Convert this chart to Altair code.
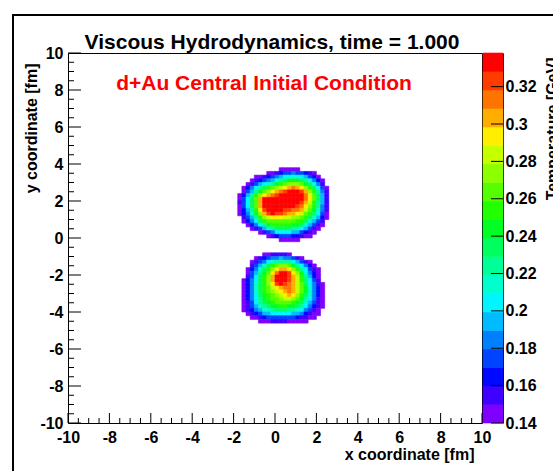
import altair as alt
import pandas as pd

# ---------------- text ----------------
TITLE = "Viscous Hydrodynamics, time = 1.000"
ANNOTATION = "d+Au Central Initial Condition"
X_TITLE = "x coordinate [fm]"
Y_TITLE = "y coordinate [fm]"
Z_TITLE = "Temperature [GeV]"

# ---------------- colour bar ----------------
Z_MIN = 0.14
Z_MAX = 0.338
Z_TICKS = [0.14, 0.16, 0.18, 0.2, 0.22, 0.24, 0.26, 0.28, 0.3, 0.32]
BAND_COLORS = ["#7f00ff", "#4000ff", "#0008ff", "#0044ff", "#0080ff",
               "#00bbff", "#00f6ff", "#00ffcc", "#00ff99", "#00ff5e",
               "#00ff22", "#22ff00", "#55ff00", "#8cff00", "#c6ff00",
               "#ffee00", "#ffae00", "#ff7300", "#ff3c00", "#ff0000"]

# ---------------- axes ----------------
X_MAJOR = [-10, -8, -6, -4, -2, 0, 2, 4, 6, 8, 10]
Y_MAJOR = [-10, -8, -6, -4, -2, 0, 2, 4, 6, 8, 10]

# ---------------- temperature field (band index per 0.2 fm cell) ----------------
# '.' = below 0.14 GeV (not drawn), '0'..'9','a'..'j' = colour band 0..19
LEVEL_CODES = "0123456789abcdefghij"
CELL = 0.2
UPPER_X0, UPPER_Y0 = -1.8, 3.8   # upper-left corner of the upper hot spot grid
UPPER_ROWS = [
    "..........00000.......",
    ".......001233433210...",
    "....0012345667665320..",
    "...012345789aaa986420.",
    "..0135678abcdddca9641.",
    ".024689bcdefghgfdb9630",
    ".0358acdfghijjjigdb841",
    "0258bdfghijjjjjjhfc951",
    "0369cgjjjjjjjjjjhfc951",
    "1369cgjjjjjjjjjigeb851",
    "0369cgjjjjjjjjihfdb841",
    "0258bfijjjjiihhgeca741",
    "0247adgijiihggfecb9630",
    ".1358bdefffeeddcb97520",
    ".02469bcccccccbb97531.",
    "..02468abbbbbaa975310.",
    "...01357899998865310..",
    ".....01346666553210...",
    ".......01233322100....",
    "..........00000.......",
]
LOWER_X0, LOWER_Y0 = -1.6, -0.8  # upper-left corner of the lower hot spot grid
LOWER_ROWS = [
    ".....0011110........",
    "...012344544310.....",
    "..013467888865310...",
    "..13579bcddca86420..",
    ".02479bdfggfdb86310.",
    ".0358acfhjjifda7420.",
    ".1369bdgjjjigeb8520.",
    "02469bdgjjjigeb9631.",
    "02479bdfijihgec96410",
    "02479bcefghhgeca7420",
    "02479bcdefghgeca7420",
    "02469abcdefgfdb97420",
    "02468abccdeedca86410",
    "013689abccccba975310",
    "0135789aabbaa9864210",
    "0124577899988764310.",
    ".012355666665542100.",
    "..0012333333321100..",
    "....000111100000....",
]

# ---------------- build tables ----------------
band_w = (Z_MAX - Z_MIN) / len(BAND_COLORS)
records = []
for x0, y0, rows in [(UPPER_X0, UPPER_Y0, UPPER_ROWS), (LOWER_X0, LOWER_Y0, LOWER_ROWS)]:
    for r, line in enumerate(rows):
        for c, ch in enumerate(line):
            if ch == ".":
                continue
            k = LEVEL_CODES.index(ch)
            records.append({
                "x": round(x0 + c * CELL, 3), "x2": round(x0 + (c + 1) * CELL, 3),
                "y": round(y0 - (r + 1) * CELL, 3), "y2": round(y0 - r * CELL, 3),
                "T": round(Z_MIN + (k + 0.5) * band_w, 5),
            })
cells = pd.DataFrame(records)

bands = pd.DataFrame({
    "lo": [Z_MIN + k * band_w for k in range(len(BAND_COLORS))],
    "hi": [Z_MIN + (k + 1) * band_w for k in range(len(BAND_COLORS))],
})
bands["mid"] = (bands["lo"] + bands["hi"]) / 2

x_minor = [v + d for v in X_MAJOR[:-1] for d in (0.5, 1.0, 1.5)]
y_minor = [v + d for v in Y_MAJOR[:-1] for d in (0.5, 1.0, 1.5)]

# ---------------- styling ----------------
FONT = "Liberation Sans"
W, H = 414, 370
xs = alt.Scale(domain=[-10, 10], nice=False, zero=False)
ys = alt.Scale(domain=[-10, 10], nice=False, zero=False)
zs = alt.Scale(domain=[Z_MIN, Z_MAX], nice=False, zero=False)
cs = alt.Scale(type="quantize", domain=[Z_MIN, Z_MAX], range=BAND_COLORS)

x_axis = alt.Axis(values=X_MAJOR, labelExpr="toString(datum.value)",
                  labelPadding=6, labelFlush=False,
                  title=X_TITLE, titleX=406, titleY=36, titleAlign="right",
                  titleBaseline="alphabetic")
y_axis = alt.Axis(values=Y_MAJOR, labelExpr="toString(datum.value)",
                  labelPadding=5, labelFlush=False,
                  title=Y_TITLE, titleX=-32, titleY=10, titleAngle=270,
                  titleAlign="right", titleBaseline="alphabetic")
z_axis = alt.Axis(orient="right", offset=21, values=Z_TICKS, format=".2~f",
                  domain=True, domainColor="black", domainWidth=1, labelPadding=2,
                  labelFlush=False,
                  title=Z_TITLE, titleX=54, titleY=4, titleAngle=270,
                  titleAlign="right", titleBaseline="alphabetic")

heat = alt.Chart(cells).mark_rect(strokeWidth=0.6).encode(
    x=alt.X("x:Q", scale=xs, axis=x_axis),
    x2="x2:Q",
    y=alt.Y("y:Q", scale=ys, axis=y_axis),
    y2="y2:Q",
    color=alt.Color("T:Q", scale=cs, legend=None),
    stroke=alt.Stroke("T:Q", scale=cs, legend=None),
)

x_major_ticks = alt.Chart(pd.DataFrame({"xv": X_MAJOR})).mark_rule(color="black").encode(
    x=alt.X("xv:Q", scale=xs, axis=None), y=alt.value(H), y2=alt.value(H - 10))
x_minor_ticks = alt.Chart(pd.DataFrame({"xv": x_minor})).mark_rule(color="black").encode(
    x=alt.X("xv:Q", scale=xs, axis=None), y=alt.value(H), y2=alt.value(H - 5))
y_major_ticks = alt.Chart(pd.DataFrame({"yv": Y_MAJOR})).mark_rule(color="black").encode(
    y=alt.Y("yv:Q", scale=ys, axis=None), x=alt.value(0), x2=alt.value(13))
y_minor_ticks = alt.Chart(pd.DataFrame({"yv": y_minor})).mark_rule(color="black").encode(
    y=alt.Y("yv:Q", scale=ys, axis=None), x=alt.value(0), x2=alt.value(6))

one = pd.DataFrame({"t": [TITLE], "n": [ANNOTATION]})
title_text = alt.Chart(one).mark_text(
    font=FONT, fontSize=21, fontWeight="bold", color="black",
    align="center", baseline="alphabetic").encode(
    text="t:N", x=alt.value(204), y=alt.value(-4))
note_text = alt.Chart(one).mark_text(
    font=FONT, fontSize=21, fontWeight="bold", color="#ff0000",
    align="center", baseline="alphabetic").encode(
    text="n:N", x=alt.value(196), y=alt.value(37))

border_left = alt.Chart(one).mark_rule(color="black", strokeWidth=2).encode(
    x=alt.value(-55), y=alt.value(-39), y2=alt.value(420))
border_top = alt.Chart(one).mark_rule(color="black", strokeWidth=2).encode(
    y=alt.value(-38), x=alt.value(-56), x2=alt.value(490))

cbar = alt.Chart(bands).mark_rect(strokeWidth=0.6).encode(
    x=alt.value(W + 1), x2=alt.value(W + 21),
    y=alt.Y("lo:Q", scale=zs, axis=z_axis),
    y2="hi:Q",
    color=alt.Color("mid:Q", scale=cs, legend=None),
    stroke=alt.Stroke("mid:Q", scale=cs, legend=None),
)
cbar_ticks = alt.Chart(pd.DataFrame({"zv": Z_TICKS})).mark_rule(color="black").encode(
    y=alt.Y("zv:Q", scale=zs, axis=None), x=alt.value(W + 9), x2=alt.value(W + 21))

chart = (
    alt.layer(heat, x_major_ticks, x_minor_ticks, y_major_ticks, y_minor_ticks,
              cbar, cbar_ticks, title_text, note_text, border_left, border_top)
    .resolve_scale(x="independent", y="independent")
    .properties(width=W, height=H,
                padding={"left": 68, "top": 53, "right": 71, "bottom": 48},
                autosize=alt.AutoSizeParams(type="none"),
                background="white")
    .configure_view(stroke="black", strokeWidth=1)
    .configure_axis(ticks=False, tickSize=0, grid=False, domain=False,
                    labelOverlap=False,
                    labelFont=FONT, labelFontSize=16, labelFontWeight="bold",
                    labelColor="black",
                    titleFont=FONT, titleFontSize=16, titleFontWeight="bold",
                    titleColor="black")
)

chart.save("out.html", embed_options={"renderer": "svg", "actions": False})
